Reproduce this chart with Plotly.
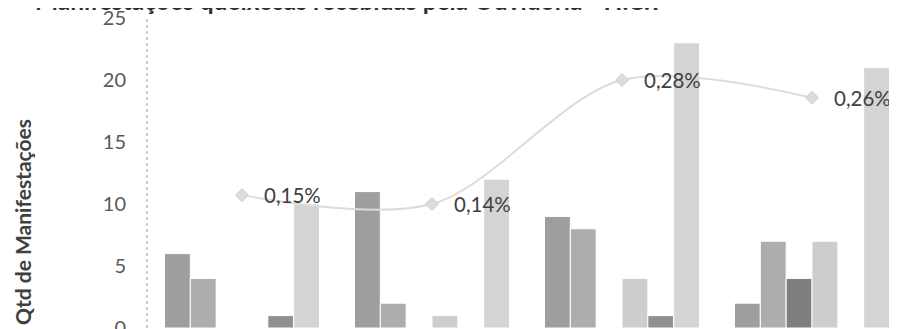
import plotly.graph_objects as go

categories = ["Período 1", "Período 2", "Período 3", "Período 4"]
series_names = ["Série 1", "Série 2", "Série 3", "Série 4", "Série 5", "Série 6"]
series_values = [
    [6, 11, 9, 2],
    [4, 2, 8, 7],
    [0, 0, 0, 4],
    [0, 1, 4, 7],
    [1, 0, 1, 0],
    [10, 12, 23, 21],
]
series_colors = ["#9e9e9e", "#adadad", "#7e7e7e", "#cdcdcd", "#909090", "#d4d4d4"]
pct_values = [0.15, 0.14, 0.28, 0.26]
pct_labels = ["0,15%", "0,14%", "0,28%", "0,26%"]
y_ticks = [0, 5, 10, 15, 20, 25]

FONT = "Lato"
OFF = 8  # default page body margin
SW, SH = 897, 329  # screen size
W, H = SW - OFF, SH - OFF
# screen-space plot box: left 147, top 18, bottom 328, right 897
ML, MT = 147 - OFF, 18 - OFF
MB = H - (328 - OFF)
MR = 0
plot_w = W - ML - MR
plot_h = H - MT - MB


def py(ys):
    return (328 - ys) / plot_h


def px(xs):
    return (xs - 147) / plot_w


fig = go.Figure()
for name, vals, col in zip(series_names, series_values, series_colors):
    fig.add_trace(go.Bar(x=categories, y=vals, name=name,
                         marker=dict(color=col, line=dict(color="white", width=1)),
                         showlegend=False))

fig.add_trace(go.Scatter(x=categories, y=pct_values, yaxis="y2", mode="lines+markers",
                         line=dict(color="#dcdcdc", width=2, shape="spline", smoothing=0.9),
                         marker=dict(symbol="diamond", size=10, color="#dcdcdc",
                                     line=dict(color="#d0d0d0", width=1)),
                         showlegend=False))

annotations = []
for c, v, t in zip(categories, pct_values, pct_labels):
    annotations.append(dict(x=c, y=v, xref="x", yref="y2", text=t, showarrow=False,
                            xanchor="left", yanchor="middle", xshift=20,
                            font=dict(family=FONT, size=20.5, color="#404040")))

annotations.append(dict(x=px(22), y=py(222), xref="paper", yref="paper",
                        text="<b>Qtd de Manifestações</b>",
                        textangle=-90, showarrow=False, xanchor="center", yanchor="middle",
                        font=dict(family=FONT, size=21, color="#404040")))

annotations.append(dict(x=px(33), y=py(1), xref="paper", yref="paper",
                        text="<b>Manifestações queixosas recebidas pela Ouvidoria - H.C.T</b>",
                        showarrow=False, xanchor="left", yanchor="middle",
                        font=dict(family=FONT, size=24.5, color="#303030")))

fig.update_layout(
    width=W, height=H,
    margin=dict(l=ML, r=MR, t=MT, b=MB, pad=0, autoexpand=False),
    paper_bgcolor="white", plot_bgcolor="white",
    barmode="group", bargap=0.184, bargroupgap=0,
    xaxis=dict(range=[-0.5, -0.5 + plot_w / 190], showticklabels=False, showline=False,
               showgrid=False, zeroline=False, ticks="", automargin=False),
    yaxis=dict(range=[0, 25], tickvals=y_ticks, showgrid=False, zeroline=False,
               showline=False, ticks="", ticklabelstandoff=20, automargin=False,
               ticklabeloverflow="allow",
               tickfont=dict(family=FONT, size=20, color="#5a5a5a")),
    yaxis2=dict(range=[0, 0.35], overlaying="y", side="right", visible=False),
    annotations=annotations,
    shapes=[dict(type="line", xref="paper", yref="paper", x0=0, x1=0, y0=0, y1=1,
                 line=dict(color="#9a9a9a", width=1, dash="dot"))],
)

fig.write_html("out.html")
